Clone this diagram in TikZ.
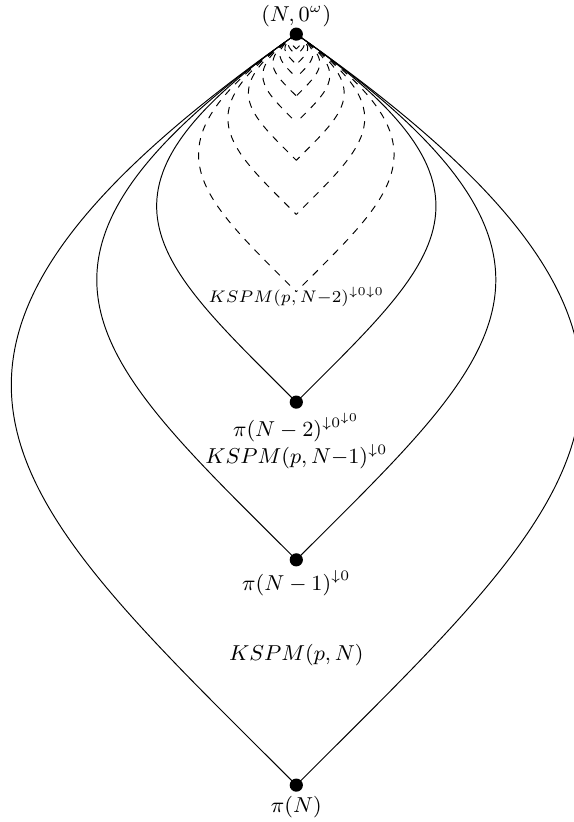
\documentclass[tikz,border=0pt]{standalone}
\usepackage{amsmath,amssymb}
\usetikzlibrary{positioning}

\begin{document}
\begin{tikzpicture}[
  dot/.style={circle, fill=black, inner sep=0pt, minimum size=5.5pt},
  lbl/.style={inner sep=0pt, font=\small},
  leftarc/.style={out=-145, in=135, out looseness=1.92, in looseness=1.4},
  rightarc/.style={out=-35, in=45, out looseness=1.92, in looseness=1.4},
]
\useasboundingbox (-4.34,-11.54) rectangle (4.06,0.50);

% === Points ===
\node[dot] (top) at (0,0) {};
\node[dot] (pN2) at (0,-5.39) {};
\node[dot] (pN1) at (0,-7.7) {};
\node[dot] (pN) at (0,-11) {};

% === Solid leaves ===
\foreach \p in {pN2, pN1, pN} {
  \draw (top.center) to[leftarc] (\p.center);
  \draw (top.center) to[rightarc] (\p.center);
}

% === Dashed leaves, each 0.7 of the one before ===
\foreach \k in {3,...,11} {
  \coordinate (d\k) at (0,{-11*pow(0.7,\k)});
  \draw[dashed] (top.center) to[leftarc] (d\k);
  \draw[dashed] (top.center) to[rightarc] (d\k);
}

% === Labels ===
\node[lbl, above=0pt of top] (ltop) {$(N,0^\omega)$};
\node[lbl, below=-2pt of d3, font=\scriptsize] (lk2) {$KSPM(p,N{-}2)^{\downarrow 0\downarrow 0}$};
\node[lbl, below=1.5pt of pN2] (lpN2) {$\pi(N-2)^{\downarrow 0^{\downarrow 0}}$};
\node[lbl, below=0.5pt of lpN2] (lk1) {$KSPM(p,N{-}1)^{\downarrow 0}$};
\node[lbl, below=1.5pt of pN1] (lpN1) {$\pi(N-1)^{\downarrow 0}$};
\node[lbl] (lk) at (0,-9.1) {$KSPM(p,N)$};
\node[lbl, below=1.5pt of pN] (lpN) {$\pi(N)$};

\end{tikzpicture}
\end{document}
